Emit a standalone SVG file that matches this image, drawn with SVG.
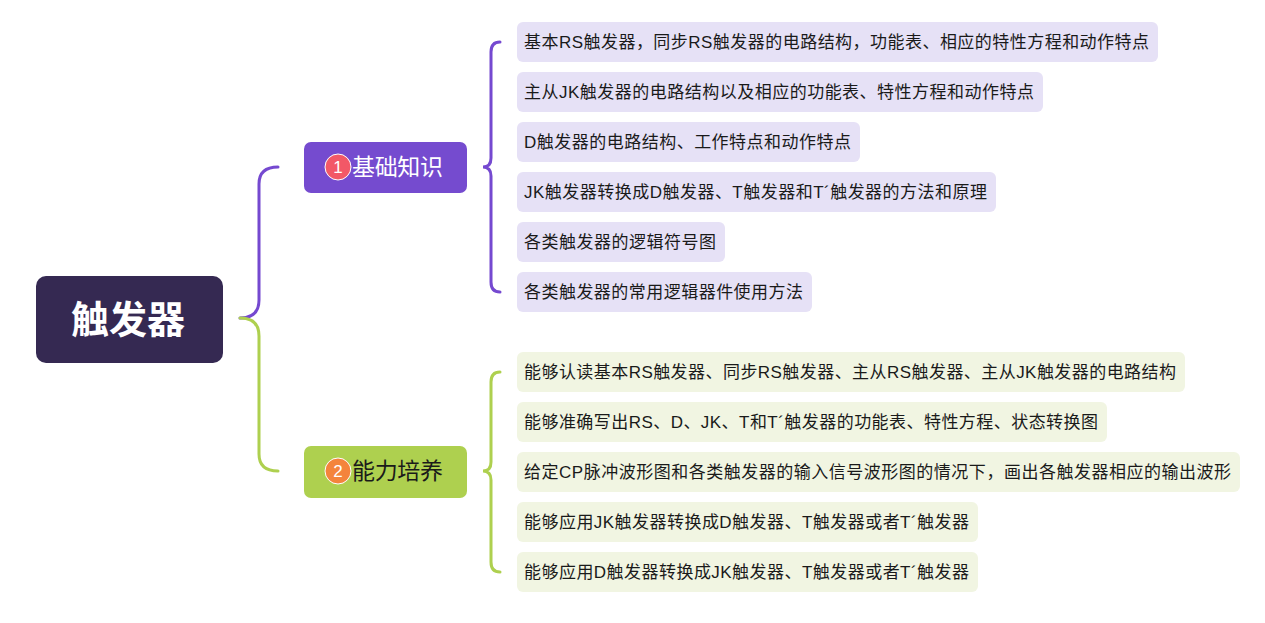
<svg xmlns="http://www.w3.org/2000/svg" width="1265" height="623" viewBox="0 0 1265 623">
<style>
.leafA{fill:#e6e1f6}
.leafB{fill:#f1f5e2}
.lt{font-family:"Liberation Sans","Noto Sans CJK SC",sans-serif;font-size:17px;fill:#1a1a1a}
.br{font-family:"Liberation Sans","Noto Sans CJK SC",sans-serif;font-size:23px}
.num{font-family:"Liberation Sans",sans-serif;font-size:17px;fill:#fff;text-anchor:middle}
.c{fill:none;stroke-width:3;stroke-linecap:round}
</style>
<rect width="1265" height="623" fill="#fff"/>
<g id="connectors">
<path class="c" stroke="#7549d0" d="M240,318 Q259,318 259,300 L259,184 Q259,167 278,167"/>
<path class="c" stroke="#aed04f" d="M240,318 Q259,318 259,336 L259,454 Q259,471 278,471"/>
<path class="c" stroke="#7549d0" d="M500,42 Q491,42 491,52 L491,158 Q491,167 483,167 Q491,167 491,176 L491,282 Q491,292 500,292"/>
<path class="c" stroke="#aed04f" d="M500,372 Q491,372 491,382 L491,462 Q491,471 483,471 Q491,471 491,480 L491,562 Q491,572 500,572"/>
</g>
<g id="root">
<rect x="36" y="276" width="187" height="87" rx="10" fill="#352952"/>
<text x="128" y="333" text-anchor="middle" font-family="'Noto Sans CJK SC',sans-serif" font-weight="bold" font-size="38" fill="#fff">触发器</text>
</g>
<g id="branch1">
<rect x="304" y="142" width="163" height="51" rx="7" fill="#754bcf"/>
<circle cx="338" cy="167" r="13" fill="#f25867" stroke="#fff" stroke-width="1"/>
<text class="num" x="338" y="173">1</text>
<text class="br" x="352" y="175" fill="#fff" textLength="91">基础知识</text>
</g>
<g id="branch2">
<rect x="304" y="446" width="163" height="52" rx="7" fill="#aed04f"/>
<circle cx="338" cy="471" r="13" fill="#f4843c" stroke="#fff" stroke-width="1"/>
<text class="num" x="338" y="477">2</text>
<text class="br" x="352" y="479" fill="#1a1a1a" textLength="91">能力培养</text>
</g>
<g id="leaf1"><rect class="leafA" x="517" y="22" width="641" height="40" rx="6"/><text class="lt" x="524" y="48" textLength="625">基本RS触发器，同步RS触发器的电路结构，功能表、相应的特性方程和动作特点</text></g>
<g id="leaf2"><rect class="leafA" x="517" y="72" width="526" height="40" rx="6"/><text class="lt" x="524" y="98" textLength="510">主从JK触发器的电路结构以及相应的功能表、特性方程和动作特点</text></g>
<g id="leaf3"><rect class="leafA" x="517" y="122" width="343" height="40" rx="6"/><text class="lt" x="524" y="148" textLength="327">D触发器的电路结构、工作特点和动作特点</text></g>
<g id="leaf4"><rect class="leafA" x="517" y="172" width="479" height="40" rx="6"/><text class="lt" x="524" y="198" textLength="463">JK触发器转换成D触发器、T触发器和T´触发器的方法和原理</text></g>
<g id="leaf5"><rect class="leafA" x="517" y="222" width="208" height="40" rx="6"/><text class="lt" x="524" y="248" textLength="192">各类触发器的逻辑符号图</text></g>
<g id="leaf6"><rect class="leafA" x="517" y="272" width="295" height="40" rx="6"/><text class="lt" x="524" y="298" textLength="279">各类触发器的常用逻辑器件使用方法</text></g>
<g id="leaf7"><rect class="leafB" x="517" y="352" width="668" height="40" rx="6"/><text class="lt" x="524" y="378" textLength="652">能够认读基本RS触发器、同步RS触发器、主从RS触发器、主从JK触发器的电路结构</text></g>
<g id="leaf8"><rect class="leafB" x="517" y="402" width="590" height="40" rx="6"/><text class="lt" x="524" y="428" textLength="574">能够准确写出RS、D、JK、T和T´触发器的功能表、特性方程、状态转换图</text></g>
<g id="leaf9"><rect class="leafB" x="517" y="452" width="723" height="40" rx="6"/><text class="lt" x="524" y="478" textLength="707">给定CP脉冲波形图和各类触发器的输入信号波形图的情况下，画出各触发器相应的输出波形</text></g>
<g id="leaf10"><rect class="leafB" x="517" y="502" width="461" height="40" rx="6"/><text class="lt" x="524" y="528" textLength="445">能够应用JK触发器转换成D触发器、T触发器或者T´触发器</text></g>
<g id="leaf11"><rect class="leafB" x="517" y="552" width="461" height="40" rx="6"/><text class="lt" x="524" y="578" textLength="445">能够应用D触发器转换成JK触发器、T触发器或者T´触发器</text></g>
</svg>
